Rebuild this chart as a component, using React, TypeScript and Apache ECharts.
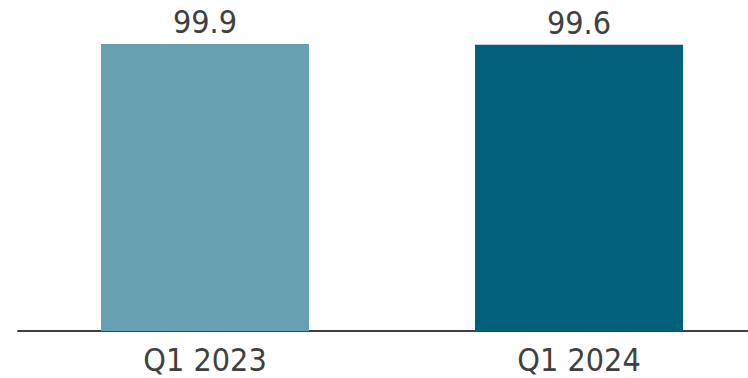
import React, { useEffect, useRef } from "react";
import * as echarts from "echarts";

const categories = ["Q1 2023", "Q1 2024"];
const values = [99.9, 99.6];
const barColors = ["#66a0b1", "#005f7a"];

export default function App() {
  const ref = useRef<HTMLDivElement>(null);
  useEffect(() => {
    if (!ref.current) return;
    const chart = echarts.init(ref.current, undefined, { renderer: "svg" });
    const font = "'DejaVu Sans Condensed', 'DejaVu Sans', sans-serif";
    chart.setOption({
      animation: false,
      grid: { left: 18, top: 43.7, width: 748, height: 287.3, containLabel: false },
      xAxis: {
        type: "category",
        data: categories,
        axisLine: { show: true, lineStyle: { color: "#404040", width: 2 } },
        axisTick: { show: false },
        axisLabel: { color: "#404040", fontSize: 32, lineHeight: 30, fontFamily: font, margin: 14 },
      },
      yAxis: {
        type: "value",
        min: 0,
        max: 100,
        show: false,
        splitLine: { show: false },
      },
      series: [
        {
          type: "bar",
          barWidth: 208,
          data: values.map((v, i) => ({ value: v, itemStyle: { color: barColors[i] } })),
          label: {
            show: true,
            position: "top",
            distance: 6,
            color: "#404040",
            fontSize: 32,
            fontFamily: font,
          },
        },
      ],
    });
    return () => chart.dispose();
  }, []);
  return (
    <div style={{ position: "fixed", left: 0, top: 0, width: 748, height: 378, overflow: "hidden", background: "#fff" }}>
      <div ref={ref} style={{ width: 784, height: 378 }} />
    </div>
  );
}
